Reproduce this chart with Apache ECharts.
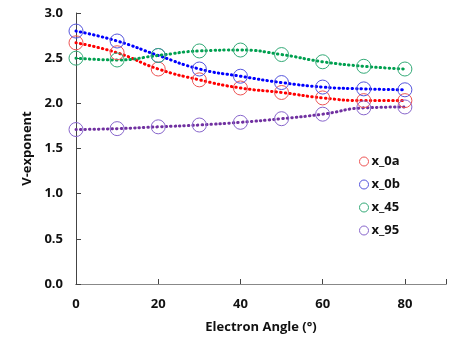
<!DOCTYPE html>
<html><head><meta charset="utf-8">
<script src="https://cdn.jsdelivr.net/npm/echarts@6/dist/echarts.min.js"></script>
<style>html,body{margin:0;padding:0;background:#fff}#c{width:449px;height:345px}</style>
</head><body><div id="c"></div>
<script>
const angles = [0, 10, 20, 30, 40, 50, 60, 70, 80];
const x_0a = [2.67, 2.56, 2.38, 2.26, 2.17, 2.12, 2.06, 2.03, 2.03];
const x_0b = [2.80, 2.69, 2.53, 2.38, 2.30, 2.23, 2.18, 2.16, 2.15];
const x_45 = [2.50, 2.48, 2.53, 2.58, 2.59, 2.54, 2.46, 2.41, 2.38];
const x_95 = [1.71, 1.72, 1.74, 1.76, 1.79, 1.83, 1.88, 1.95, 1.96];
const names = ['x_0a', 'x_0b', 'x_45', 'x_95'];
const values = [x_0a, x_0b, x_45, x_95];
const lineColors = ['#ff0000', '#0000ff', '#00a050', '#7030a0'];
const markColors = ['#ee5555', '#5555dd', '#33aa77', '#8866cc'];
const font = '"Open Sans", sans-serif';

const chart = echarts.init(document.getElementById('c'), null, {renderer: 'canvas'});
chart.setOption({
  animation: false,
  backgroundColor: '#fff',
  grid: {left: 76, top: 13, width: 375, height: 271},
  legend: {
    orient: 'vertical', left: 354, top: 150, itemWidth: 9, itemHeight: 9, itemGap: 10,
    textStyle: {fontFamily: font, fontWeight: 'bold', fontSize: 13, color: '#111', padding: [0, 0, 0, -2]},
    data: names.map((n, i) => ({name: n, icon: 'circle', itemStyle: {color: 'rgba(0,0,0,0)', borderColor: markColors[i], borderWidth: 1}}))
  },
  xAxis: [{
    type: 'value', min: 0, max: 90, interval: 20,
    name: 'Electron Angle (°)', nameLocation: 'middle', nameGap: 37,
    nameTextStyle: {fontFamily: font, fontWeight: 'bold', fontSize: 13, color: '#111'},
    axisLine: {show: true, onZero: false, lineStyle: {color: '#444', width: 1}},
    axisTick: {show: true, inside: true, length: 5, lineStyle: {color: '#444'}},
    axisLabel: {fontFamily: font, fontWeight: 'bold', fontSize: 13, color: '#111', margin: 14,
      formatter: v => v <= 80 ? String(v) : ''},
    splitLine: {show: false}
  }, {
    type: 'value', position: 'top', min: 0, max: 90,
    axisLine: {show: true, lineStyle: {color: '#888', width: 1}},
    axisTick: {show: false}, axisLabel: {show: false}, splitLine: {show: false}
  }],
  yAxis: {
    type: 'value', min: 0, max: 3, interval: 0.5,
    name: 'V-exponent', nameLocation: 'middle', nameGap: 39, nameRotate: 90,
    nameTextStyle: {fontFamily: font, fontWeight: 'bold', fontSize: 13, color: '#111'},
    axisLine: {show: true, lineStyle: {color: '#444', width: 1}},
    axisTick: {show: true, inside: true, length: 5, lineStyle: {color: '#444'}},
    axisLabel: {fontFamily: font, fontWeight: 'bold', fontSize: 13, color: '#111', margin: 13,
      formatter: v => v.toFixed(1)},
    splitLine: {show: false}
  },
  series: names.map((n, i) => ({
    name: n, type: 'line', smooth: 0.5,
    data: angles.map((a, j) => [a, values[i][j]]),
    symbol: 'circle', symbolSize: 14,
    itemStyle: {color: 'rgba(0,0,0,0)', borderColor: markColors[i], borderWidth: 1},
    lineStyle: {color: lineColors[i], width: 3, type: [0.5, 4], cap: 'round'},
    z: 2
  }))
});
</script></body></html>
